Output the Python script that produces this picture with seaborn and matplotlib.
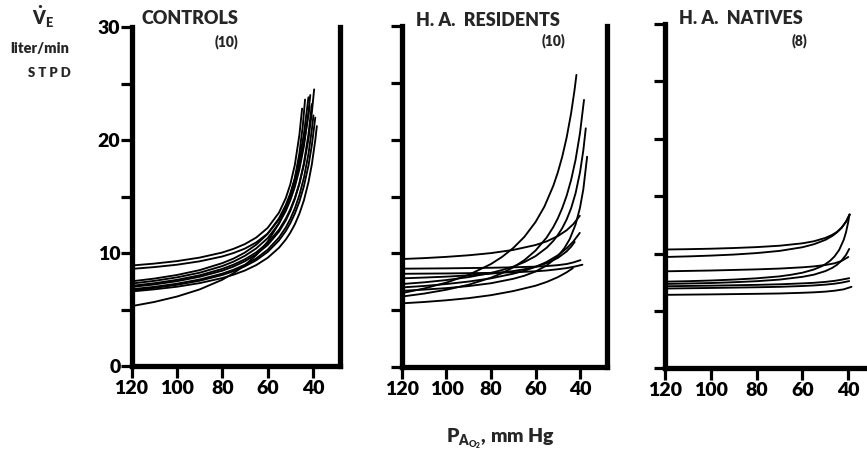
import matplotlib
matplotlib.use("Agg")
import matplotlib.pyplot as plt
import seaborn as sns
import pandas as pd

# Alveolar PO2 (mm Hg) and ventilation (liter/min STPD), one list per subject
CONTROLS_PAO2 = [
    [120, 110, 100, 90, 80, 75, 70, 65, 60, 55, 52, 50, 48, 46, 44.8],
    [120, 110, 100, 90, 80, 75, 70, 65, 60, 55, 52, 50, 48, 46, 44.5, 43.5],
    [120, 110, 100, 90, 80, 75, 70, 65, 60, 55, 52, 50, 48, 46, 44, 42],
    [120, 110, 100, 90, 80, 75, 70, 65, 60, 55, 52, 50, 48, 46, 44, 42, 41.2],
    [120, 110, 100, 90, 80, 75, 70, 65, 60, 55, 52, 50, 48, 46, 44, 42, 40.5, 39.5],
    [120, 110, 100, 90, 80, 75, 70, 65, 60, 55, 52, 50, 48, 46, 44, 42, 40.5],
    [120, 110, 100, 90, 80, 75, 70, 65, 60, 55, 52, 50, 48, 46, 44, 42, 40.5, 39.8],
    [120, 110, 100, 90, 80, 75, 70, 65, 60, 55, 52, 50, 48, 46, 44, 42, 40.5, 39],
    [120, 110, 100, 90, 80, 75, 70, 65, 60, 55, 52, 50, 48, 46, 44, 42, 40.5, 39, 38.3],
    [120, 110, 100, 90, 80, 75, 70, 65, 60, 55, 52, 50, 48, 46, 44, 42, 41.5],
]
CONTROLS_VE = [
    [8.90, 9.07, 9.29, 9.60, 10.05, 10.38, 10.80, 11.38, 12.23, 13.58, 14.87, 16.09, 17.82, 20.46, 22.8],
    [8.60, 8.76, 8.97, 9.27, 9.70, 10.01, 10.40, 10.95, 11.73, 12.96, 14.11, 15.18, 16.66, 18.83, 21.28, 23.6],
    [7.50, 7.74, 8.06, 8.49, 9.11, 9.52, 10.05, 10.75, 11.70, 13.08, 14.26, 15.28, 16.57, 18.26, 20.56, 23.8],
    [7.30, 7.54, 7.85, 8.26, 8.85, 9.25, 9.76, 10.42, 11.32, 12.63, 13.73, 14.68, 15.87, 17.41, 19.49, 22.45, 24.0],
    [7.10, 7.33, 7.63, 8.03, 8.60, 8.98, 9.45, 10.07, 10.90, 12.07, 13.05, 13.87, 14.88, 16.16, 17.84, 20.12, 22.47, 24.5],
    [7.00, 7.22, 7.51, 7.90, 8.44, 8.81, 9.28, 9.89, 10.71, 11.90, 12.89, 13.74, 14.80, 16.16, 17.97, 20.51, 23.2],
    [6.80, 7.01, 7.29, 7.66, 8.18, 8.53, 8.97, 9.53, 10.30, 11.38, 12.27, 13.03, 13.96, 15.14, 16.68, 18.78, 20.95, 22.2],
    [6.70, 6.91, 7.19, 7.55, 8.06, 8.40, 8.83, 9.37, 10.10, 11.12, 11.95, 12.65, 13.50, 14.56, 15.93, 17.75, 19.57, 22.0],
    [6.60, 6.79, 7.02, 7.34, 7.79, 8.09, 8.46, 8.94, 9.58, 10.47, 11.20, 11.81, 12.55, 13.49, 14.68, 16.28, 17.87, 20.0, 21.25],
    [5.30, 5.67, 6.15, 6.78, 7.64, 8.22, 8.93, 9.83, 11.01, 12.63, 13.93, 14.99, 16.26, 17.82, 19.76, 22.26, 23.0],
]

RESIDENTS_PAO2 = [
    [120, 110, 100, 90, 80, 70, 60, 55, 50, 46, 43, 40.1],
    [120, 100, 80, 70, 60, 55, 50, 46, 43, 39.8],
    [120, 100, 80, 70, 60, 55, 50, 46, 42, 38.9],
    [120, 110, 100, 90, 80, 70, 65, 60, 55, 50, 46, 44, 42.4],
    [120, 110, 100, 90, 80, 70, 65, 60, 55, 50, 46, 43, 40.1],
    [120, 110, 100, 90, 80, 75, 70, 65, 60, 55, 52, 50, 48, 46, 44, 42, 40, 38.5, 37.4],
    [120, 110, 100, 90, 80, 70, 65, 60, 55, 50, 47, 44.6, 42, 40, 38.5, 36.8],
    [120, 110, 100, 90, 80, 75, 70, 65, 60, 56, 52, 50, 48, 46, 44, 42.5, 41.6],
    [120, 110, 100, 90, 80, 75, 70, 65, 60, 55, 52, 50, 48, 46, 44, 42, 40, 38.2],
    [120, 110, 100, 90, 80, 70, 60, 55, 50, 46, 43.2],
]
RESIDENTS_VE = [
    [9.50, 9.58, 9.69, 9.83, 10.02, 10.30, 10.73, 11.05, 11.51, 12.03, 12.57, 13.3],
    [8.65, 8.68, 8.73, 8.77, 8.83, 8.88, 8.96, 9.06, 9.20, 9.4],
    [8.20, 8.23, 8.28, 8.33, 8.42, 8.49, 8.60, 8.70, 8.85, 9.0],
    [7.80, 7.87, 7.95, 8.06, 8.21, 8.44, 8.60, 8.82, 9.13, 9.59, 10.17, 10.58, 11.0],
    [7.00, 7.13, 7.30, 7.52, 7.80, 8.21, 8.47, 8.81, 9.24, 9.82, 10.44, 11.04, 11.8],
    [7.30, 7.45, 7.65, 7.91, 8.28, 8.53, 8.83, 9.23, 9.75, 10.49, 11.09, 11.60, 12.21, 12.98, 13.96, 15.28, 17.12, 19.07, 21.0],
    [6.70, 6.81, 6.94, 7.12, 7.37, 7.76, 8.03, 8.40, 8.93, 9.73, 10.46, 11.26, 12.53, 14.01, 15.64, 18.5],
    [6.50, 6.91, 7.43, 8.11, 9.06, 9.69, 10.47, 11.45, 12.75, 14.11, 15.94, 17.10, 18.49, 20.19, 22.32, 24.30, 25.7],
    [6.20, 6.46, 6.80, 7.24, 7.86, 8.26, 8.77, 9.40, 10.24, 11.39, 12.31, 13.06, 13.97, 15.07, 16.45, 18.22, 20.58, 23.5],
    [5.60, 5.72, 5.87, 6.06, 6.32, 6.68, 7.15, 7.48, 7.90, 8.33, 8.7],
]

NATIVES_PAO2 = [
    [120, 110, 100, 90, 80, 70, 60, 55, 50, 47, 45, 43, 41, 39.5],
    [120, 110, 100, 90, 80, 70, 60, 55, 50, 47, 45, 43, 41, 39.3],
    [120, 100, 80, 70, 60, 55, 50, 46, 43, 40],
    [120, 110, 100, 90, 80, 70, 65, 60, 55, 52, 50, 48, 46, 44, 42, 41, 40, 39.5],
    [120, 110, 100, 90, 80, 70, 60, 55, 50, 47, 45, 43, 41, 39.6],
    [120, 100, 80, 70, 60, 55, 50, 46, 43, 39.6],
    [120, 100, 80, 70, 60, 55, 50, 46, 43, 39.6],
    [120, 100, 80, 70, 60, 55, 50, 46, 42, 38.6],
]
NATIVES_VE = [
    [10.35, 10.38, 10.42, 10.48, 10.56, 10.68, 10.89, 11.07, 11.36, 11.63, 11.88, 12.24, 12.78, 13.4],
    [9.70, 9.75, 9.82, 9.91, 10.04, 10.23, 10.55, 10.81, 11.19, 11.53, 11.83, 12.22, 12.76, 13.4],
    [8.45, 8.52, 8.62, 8.69, 8.80, 8.88, 9.00, 9.15, 9.35, 9.7],
    [7.55, 7.59, 7.65, 7.73, 7.84, 8.01, 8.15, 8.33, 8.61, 8.86, 9.07, 9.36, 9.75, 10.31, 11.19, 11.85, 12.78, 13.4],
    [7.35, 7.39, 7.43, 7.50, 7.59, 7.73, 7.97, 8.16, 8.47, 8.75, 9.01, 9.37, 9.88, 10.4],
    [7.15, 7.20, 7.27, 7.32, 7.40, 7.45, 7.53, 7.62, 7.72, 7.85],
    [6.95, 7.00, 7.06, 7.10, 7.17, 7.22, 7.29, 7.37, 7.46, 7.6],
    [6.40, 6.44, 6.49, 6.52, 6.58, 6.62, 6.68, 6.76, 6.88, 7.1],
]

GROUP_TITLES = ["CONTROLS", "H. A.  RESIDENTS", "H. A.  NATIVES"]
GROUP_COUNTS = ["(10)", "(10)", "(8)"]
X_TICKS = [120, 100, 80, 60, 40]
Y_TICKS = [0, 5, 10, 15, 20, 25, 30]
Y_TICK_LABELS = ["0", "", "10", "", "20", "", "30"]

sns.set_theme(style="white")
FONT = "Lato"
plt.rcParams["font.family"] = [FONT, "DejaVu Sans"]
plt.rcParams["font.weight"] = "heavy"
plt.rcParams["mathtext.fontset"] = "custom"
plt.rcParams["mathtext.it"] = f"{FONT}:heavy"
plt.rcParams["mathtext.rm"] = f"{FONT}:heavy"
plt.rcParams["mathtext.bf"] = f"{FONT}:heavy"

W, H = 867, 449
fig = plt.figure(figsize=(W / 100, H / 100), dpi=100, facecolor="white")


def frame(pos_120, pos_40, y0, y30, x_right):
    ppu = (pos_40 - pos_120) / 80.0
    left = pos_120 / W
    width = (120 - x_right) * ppu / W
    bottom = (H - y0) / H
    height = (y0 - y30) / H
    return [left, bottom, width, height], x_right


frames = [
    frame(131.5, 313.0, 366.0, 27.3, 28.1),
    frame(402.0, 580.0, 367.0, 26.0, 28.0),
    frame(665.0, 848.3, 368.3, 24.0, 28.0),
]
groups = [
    (CONTROLS_PAO2, CONTROLS_VE),
    (RESIDENTS_PAO2, RESIDENTS_VE),
    (NATIVES_PAO2, NATIVES_VE),
]

for i, ((pos, x_right), (pao2, ve)) in enumerate(zip(frames, groups)):
    ax = fig.add_axes(pos)
    ax.set_facecolor("white")
    rows = []
    for s, (xs, vs) in enumerate(zip(pao2, ve)):
        for x, v in zip(xs, vs):
            rows.append({"subject": s, "pao2": x, "ve": v})
    df = pd.DataFrame(rows)
    sns.lineplot(data=df, x="pao2", y="ve", units="subject", estimator=None,
                 sort=False, color="black", linewidth=1.35, legend=False, ax=ax)
    for line in ax.lines:
        line.set_solid_capstyle("round")
        line.set_solid_joinstyle("round")

    ax.set_xlim(120, x_right)
    ax.set_ylim(0, 30)
    ax.set_xlabel("")
    ax.set_ylabel("")
    ax.set_xticks(X_TICKS)
    ax.set_xticklabels([str(t) for t in X_TICKS])
    ax.set_yticks(Y_TICKS)
    ax.set_yticklabels(Y_TICK_LABELS if i == 0 else [""] * len(Y_TICKS))
    ax.tick_params(axis="both", which="major", direction="out", width=2.3,
                   color="black", labelsize=14, labelcolor="black",
                   bottom=True, left=True, top=False, right=False)
    ax.tick_params(axis="x", pad=1.5, length=8.5)
    ax.tick_params(axis="y", pad=0, length=8)
    for lab in ax.get_xticklabels() + ax.get_yticklabels():
        lab.set_fontweight("heavy")

    for side in ("left", "bottom", "right"):
        ax.spines[side].set_visible(True)
        ax.spines[side].set_color("black")
        ax.spines[side].set_linewidth(3.8)
    ax.spines["top"].set_visible(False)
    ax.grid(False)

# Group headings
title_pos = [(190, 18.5), (488, 20), (741, 19)]
count_pos = [(238, 42), (565, 41), (807, 41)]
for t, (tx, ty), c, (cx, cy) in zip(GROUP_TITLES, title_pos, GROUP_COUNTS, count_pos):
    fig.text(tx / W, 1 - ty / H, t, ha="center", va="center",
             fontsize=13, fontweight="heavy")
    fig.text(cx / W, 1 - cy / H, c, ha="right", va="center",
             fontsize=10, fontweight="heavy")

# Axis titles
fig.text(43 / W, 1 - 17 / H, r"$\dot{V}_E$", ha="center", va="center", fontsize=13)
fig.text(40 / W, 1 - 49 / H, "liter/min", ha="center", va="center",
         fontsize=10.5, fontweight="heavy")
fig.text(49 / W, 1 - 73 / H, "S T P D", ha="center", va="center",
         fontsize=9.5, fontweight="heavy")
fig.text(501 / W, 1 - 442 / H, r"$P_{A_{O_2}}$, mm Hg", ha="center", va="baseline",
         fontsize=14, fontweight="heavy")

fig.savefig("out.png", dpi=100, facecolor="white")
